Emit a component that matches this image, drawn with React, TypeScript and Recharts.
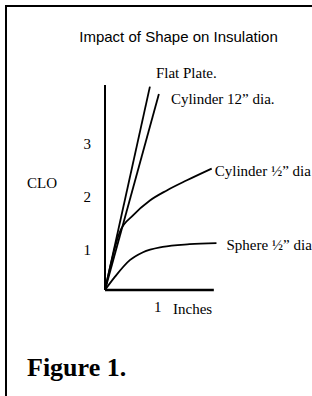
import React from 'react';
import { LineChart, Line, XAxis, YAxis, ReferenceLine } from 'recharts';

// curves (inches vs CLO), origin sits at y = 0.25
const flatPlate = [
  { x: 0, y: 0.25 },
  { x: 0.85, y: 4.07 },
];
const cylinder12 = [
  { x: 0, y: 0.25 },
  { x: 1.02, y: 3.93 },
];
const cylinderHalf = [
  { x: 0, y: 0.25 },
  { x: 0.28, y: 1.34 },
  { x: 0.53, y: 1.65 },
  { x: 0.85, y: 1.93 },
  { x: 1.17, y: 2.12 },
  { x: 1.55, y: 2.31 },
  { x: 2.02, y: 2.53 },
];
const sphereHalf = [
  { x: 0, y: 0.25 },
  { x: 0.19, y: 0.5 },
  { x: 0.47, y: 0.81 },
  { x: 0.72, y: 0.96 },
  { x: 1.09, y: 1.06 },
  { x: 1.6, y: 1.11 },
  { x: 2.11, y: 1.13 },
];

const seriesNames = ['Flat Plate.', 'Cylinder 12\u201D dia.', 'Cylinder \u00BD\u201D dia', 'Sphere \u00BD\u201D dia'];
const xTicks = [1];
const yTicks = [1, 2, 3];
const xAxisEnd = 2.06;

const serif = '"Liberation Serif", "Times New Roman", serif';
const sans = '"Liberation Sans", Arial, sans-serif';

const endLabel = (text: string, count: number, dx: number, dy: number) => (props: any) => {
  const { x, y, index } = props;
  if (index !== count - 1) return null;
  return (
    <text x={x + dx} y={y + dy} dy="0.35em" fontFamily={serif} fontSize={15} fill="#000">
      {text}
    </text>
  );
};

export default function App() {
  const tickStyle = { fontSize: 15, fill: '#000', fontFamily: serif };
  return (
    <div style={{ position: 'absolute', left: 0, top: 0, width: 312, height: 396, background: '#fff', overflow: 'hidden' }}>
      <div
        style={{
          position: 'absolute',
          left: 5,
          top: 5,
          width: 330,
          height: 420,
          borderTop: '2px solid #000',
          borderLeft: '2px solid #000',
        }}
      />
      <div
        style={{
          position: 'absolute',
          left: 0,
          width: 357,
          top: 28,
          textAlign: 'center',
          fontFamily: sans,
          fontSize: 15,
          lineHeight: '17px',
          color: '#000',
        }}
      >
        Impact of Shape on Insulation
      </div>
      <div style={{ position: 'absolute', left: 27, top: 175, fontFamily: serif, fontSize: 15, lineHeight: '17px' }}>CLO</div>
      <div
        style={{
          position: 'absolute',
          left: 27,
          top: 353,
          fontFamily: serif,
          fontSize: 26,
          fontWeight: 'bold',
          lineHeight: '30px',
        }}
      >
        Figure 1.
      </div>
      <div style={{ position: 'absolute', left: 0, top: 0 }}>
        <LineChart width={312} height={396} margin={{ top: 85, right: 95, bottom: 76, left: 45 }}>
          <XAxis
            type="number"
            dataKey="x"
            domain={[0, 2.12]}
            ticks={xTicks}
            height={30}
            axisLine={false}
            tickLine={false}
            tickMargin={5}
            tick={tickStyle}
          />
          <YAxis
            type="number"
            dataKey="y"
            domain={[0.25, 4.1]}
            ticks={yTicks}
            width={60}
            axisLine={{ stroke: '#000', strokeWidth: 2 }}
            tickLine={false}
            tickMargin={8}
            tick={tickStyle}
          />
          <ReferenceLine
            segment={[
              { x: 0, y: 0.25 },
              { x: xAxisEnd, y: 0.25 },
            ]}
            stroke="#000"
            strokeWidth={2.5}
          />
          <Line
            data={flatPlate}
            dataKey="y"
            type="linear"
            stroke="#000"
            strokeWidth={1.8}
            dot={false}
            isAnimationActive={false}
            label={endLabel(seriesNames[0], flatPlate.length, 6, -14)}
          />
          <Line
            data={cylinder12}
            dataKey="y"
            type="linear"
            stroke="#000"
            strokeWidth={1.8}
            dot={false}
            isAnimationActive={false}
            label={endLabel(seriesNames[1], cylinder12.length, 12, 5)}
          />
          <Line
            data={cylinderHalf}
            dataKey="y"
            type="monotone"
            stroke="#000"
            strokeWidth={1.8}
            dot={false}
            isAnimationActive={false}
            label={endLabel(seriesNames[2], cylinderHalf.length, 3, 2)}
          />
          <Line
            data={sphereHalf}
            dataKey="y"
            type="monotone"
            stroke="#000"
            strokeWidth={1.8}
            dot={false}
            isAnimationActive={false}
            label={endLabel(seriesNames[3], sphereHalf.length, 10, 2)}
          />
        </LineChart>
      </div>
      <div style={{ position: 'absolute', left: 173, top: 301, fontFamily: serif, fontSize: 15, lineHeight: '17px' }}>
        Inches
      </div>
    </div>
  );
}
